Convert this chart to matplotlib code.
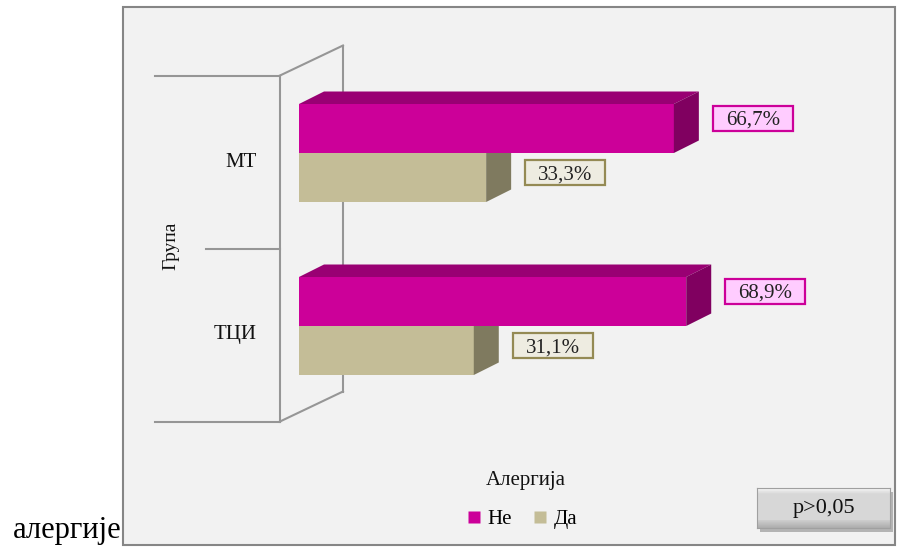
import matplotlib
matplotlib.use('Agg')
import matplotlib.pyplot as plt
import numpy as np
from matplotlib.patches import Rectangle, Polygon
from matplotlib.lines import Line2D

# data
groups = ['МТ', 'ТЦИ']
ne_vals = [66.7, 68.9]
da_vals = [33.3, 31.1]
series = ['Не', 'Да']
axis_title = 'Група'
legend_title = 'Алергија'
note = 'p>0,05'
side_text = 'алергије'

plt.rcParams['font.family'] = ['Liberation Serif', 'DejaVu Serif']

W, H = 898, 550
PX = 5.62     # pixels per percent
BAND = 173.0  # pixels per category

fig = plt.figure(figsize=(W / 100, H / 100), dpi=100)

# chart frame
fig.patches.append(Rectangle((123 / W, 1 - 545 / H), (895 - 123) / W, (545 - 7) / H,
                             transform=fig.transFigure, fc='#f2f2f2', ec='#868686', lw=1.5, zorder=-5))

ax = fig.add_axes([0, 0, 1, 1])
ax.set_zorder(2)
ax.set_xlim(-299 / PX, (W - 299) / PX)
ax.set_ylim((326 - H) / BAND, 326 / BAND)
ax.axis('off')
ax.patch.set_visible(False)

ypos = np.array([1, 0])
h = 49 / BAND
dx = 25 / PX
dy = 12.5 / BAND

# walls (3d category axis)
wall_col = '#969696'
fx = -19 / PX          # front wall x
bx = 44 / PX           # back wall x
fo = -9 / BAND         # front plane vertical shift
wdy = 30 / BAND
top = ypos.max() + 0.5 + fo
bot = ypos.min() - 0.5 + fo
ax.plot([fx, fx], [bot, top], color=wall_col, lw=1.5, zorder=1)
ax.plot([bx, bx], [bot + wdy, top + wdy], color=wall_col, lw=1.5, zorder=1)
ax.plot([fx, bx], [top, top + wdy], color=wall_col, lw=1.5, zorder=1)
ax.plot([fx, bx], [bot, bot + wdy], color=wall_col, lw=1.5, zorder=1)
ax.plot([-144 / PX, fx], [top, top], color=wall_col, lw=1.5, zorder=1)
ax.plot([-144 / PX, fx], [bot, bot], color=wall_col, lw=1.5, zorder=1)
ax.plot([-93 / PX, fx], [(top + bot) / 2] * 2, color=wall_col, lw=1.5, zorder=1)

for g, y in zip(groups, ypos):
    ax.text(-42 / PX, y + fo, g, ha='right', va='center', fontsize=15, color='#111111')
ax.text(-128 / PX, (top + bot) / 2 + 3 / BAND, axis_title, rotation=90, ha='center', va='center',
        fontsize=14, color='#111111')


def bar3d(vals, y0, front, top_c, side_c, box_fc, box_ec, lift, z):
    ax.barh(y0 + h / 2, vals, height=h, left=0, color=front, lw=0, zorder=z)
    for v, yb in zip(vals, y0):
        yt = yb + h
        ax.add_patch(Polygon([(0, yt), (dx, yt + dy), (v + dx, yt + dy), (v, yt)],
                             closed=True, fc=top_c, ec='none', zorder=z))
        ax.add_patch(Polygon([(v, yb), (v + dx, yb + dy), (v + dx, yt + dy), (v, yt)],
                             closed=True, fc=side_c, ec='none', zorder=z))
        # data label box
        bw, bh = 80 / PX, 25 / BAND
        x0 = v + dx + 14 / PX
        yc = yb + h / 2 + lift / BAND
        ax.add_patch(Rectangle((x0, yc - bh / 2), bw, bh, fc=box_fc, ec=box_ec, lw=1.6, zorder=z + 4))
        ax.text(x0 + bw / 2, yc, f'{v:.1f}%'.replace('.', ','), ha='center', va='center_baseline',
                fontsize=15, color='#222222', zorder=z + 5)


bar3d(da_vals, ypos - h, '#c4bd97', '#a39d7c', '#7f7a5f', '#eeece1', '#948a54', 5, 3)
bar3d(ne_vals, ypos, '#cc0099', '#990073', '#800060', '#ffccff', '#cc0099', 10.5, 4)

# legend
fig.text(526 / W, 1 - 481 / H, legend_title, ha='center', va='center', fontsize=15, color='#111111')
handles = [Line2D([], [], ls='none', marker='s', ms=8, mfc='#cc0099', mec='none'),
           Line2D([], [], ls='none', marker='s', ms=8, mfc='#c4bd97', mec='none')]
fig.legend(handles, series, loc='center', bbox_to_anchor=(522 / W, 1 - 519 / H), ncol=2,
           frameon=False, handlelength=0.7, handletextpad=0.3, columnspacing=1.0, fontsize=15)

# p-value button
fig.patches.append(Rectangle((760 / W, 1 - 532 / H), 133 / W, 40 / H, transform=fig.transFigure,
                             fc='#b4b4b4', ec='none', zorder=-1))
bax = fig.add_axes([757 / W, 1 - 528 / H, 133 / W, 40 / H])
bax.set_zorder(3)
grad = np.concatenate([np.linspace(0.96, 0.85, 6), np.full(26, 0.84), np.linspace(0.80, 0.68, 8)])
bax.imshow(np.repeat(grad[:, None], 10, axis=1), cmap='gray', vmin=0, vmax=1, aspect='auto',
           extent=(0, 1, 0, 1))
bax.set_xticks([])
bax.set_yticks([])
for s in bax.spines.values():
    s.set_color('#a0a0a0')
bax.text(0.5, 0.5, note, ha='center', va='center', fontsize=16, color='#111111', transform=bax.transAxes)

fig.text(121 / W, 1 - 538 / H, side_text, ha='right', va='baseline', fontsize=22, color='#000000')

fig.savefig('out.png', dpi=100)
